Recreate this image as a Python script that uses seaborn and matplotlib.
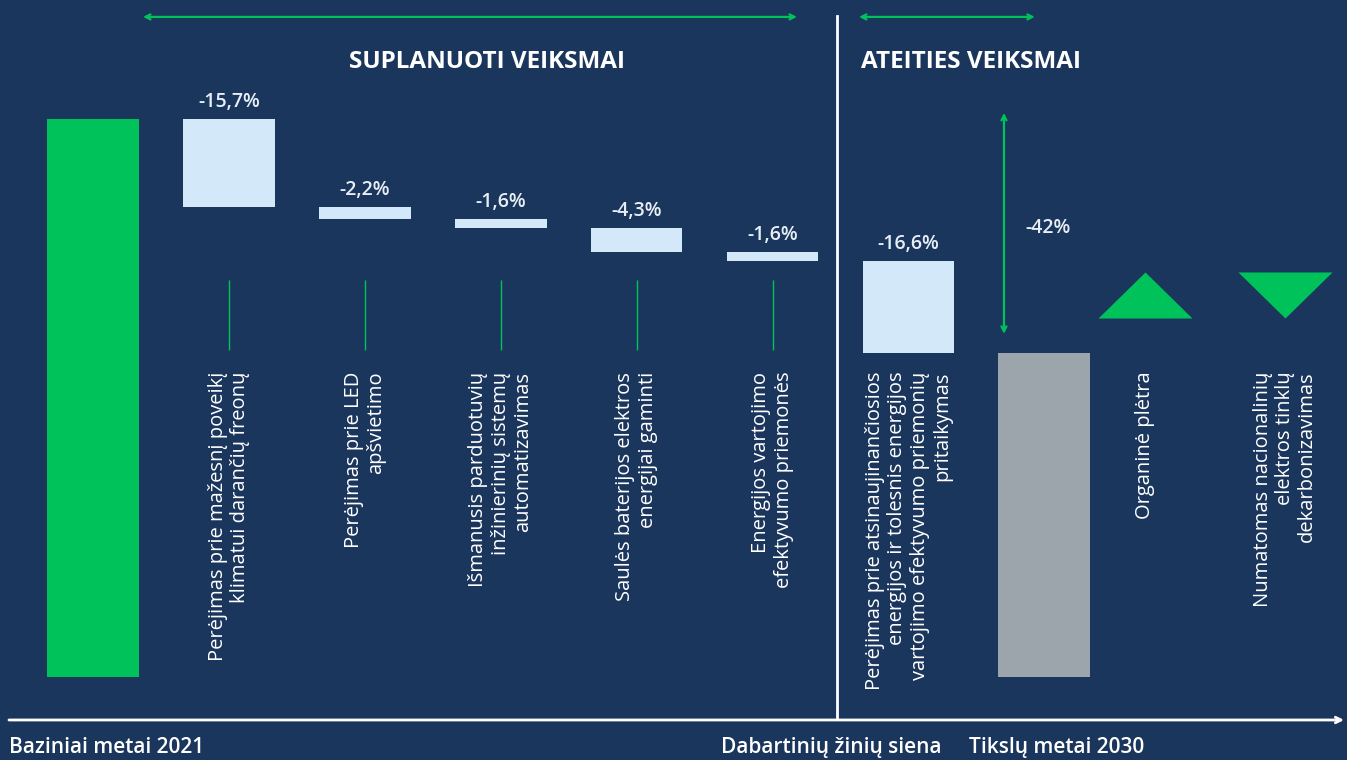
import numpy as np
import pandas as pd
import matplotlib
matplotlib.use("Agg")
import matplotlib.pyplot as plt
import seaborn as sns

# --- data ---
base_value = 100.0
step_names = ["Baziniai metai 2021", "Freonai", "LED", "Automatizavimas",
              "Saulės baterijos", "Efektyvumas", "Atsinaujinanti energija",
              "Tikslų metai 2030"]
step_changes = [-15.7, -2.2, -1.6, -4.3, -1.6, -16.6]
total_change_label = "-42%"

step_labels = [
    "Perėjimas prie mažesnį poveikį\nklimatui darančių freonų",
    "Perėjimas prie LED\napšvietimo",
    "Išmanusis parduotuvių\ninžinierinių sistemų\nautomatizavimas",
    "Saulės baterijos elektros\nenergijai gaminti",
    "Energijos vartojimo\nefektyvumo priemonės",
    "Perėjimas prie atsinaujinančiosios\nenergijos ir tolesnis energijos\nvartojimo efektyvumo priemonių\npritaikymas",
]
extra_labels = ["Organinė plėtra",
                "Numatomas nacionalinių\nelektros tinklų\ndekarbonizavimas"]
section_titles = ["SUPLANUOTI VEIKSMAI", "ATEITIES VEIKSMAI"]
bottom_labels = ["Baziniai metai 2021", "Dabartinių žinių siena", "Tikslų metai 2030"]

# --- colours ---
BG = "#1B365D"
GREEN = "#00C25A"
LIGHT = "#D3E8F8"
GREY = "#9BA5AB"
WHITE = "#FFFFFF"

# --- waterfall geometry from the data ---
tops = [base_value]
bottoms = [0.0]
cur = base_value
for ch in step_changes:
    tops.append(cur)
    bottoms.append(cur + ch)
    cur = cur + ch
tops.append(cur)
bottoms.append(0.0)
colors = [GREEN] + [LIGHT] * len(step_changes) + [GREY]

df = pd.DataFrame({"step": step_names, "top": tops, "bottom": bottoms})

plt.rcParams["font.family"] = ["Open Sans", "DejaVu Sans"]
fig = plt.figure(figsize=(13.47, 7.6), dpi=100, facecolor=BG)
ax = fig.add_axes([0, 0, 1, 1])
ax.set_facecolor(BG)

sns.barplot(data=df, x="step", y="top", hue="step", palette=colors,
            width=0.675, saturation=1, legend=False, linewidth=0, ax=ax)
# mask the lower part of the floating bars with the background colour
sns.barplot(data=df, x="step", y="bottom", color=BG, width=0.69,
            saturation=1, linewidth=0, ax=ax)

# axis limits chosen so that bar positions match the layout
ax.set_xlim(-0.684, 9.227)
ax.set_ylim(-14.87, 121.33)
ax.set_axis_off()

# value labels above the change bars
for i, ch in enumerate(step_changes, start=1):
    txt = f"{ch:.1f}".replace(".", ",") + "%"
    ax.text(i, tops[i] + 3.0, txt, ha="center", va="center",
            color="#E8EEF5", fontsize=14, fontweight="semibold")

# thin green leader lines under the first five changes
ax.vlines(range(1, 6), 58.6, 71.1, color=GREEN, lw=1, zorder=3)

# rotated step descriptions
for i, lab in enumerate(step_labels, start=1):
    ax.text(i, 54.7, lab, rotation=90, ha="center", va="top",
            multialignment="right", color=WHITE, fontsize=14.5,
            linespacing=1.15)

# qualitative effects: triangles
tri_up = [(-1, -0.49), (1, -0.49), (0, 0.49)]
tri_down = [(-1, 0.49), (1, 0.49), (0, -0.49)]
tri_x = [7.74, 8.77]
ax.scatter([tri_x[0]], [68.5], marker=tri_up, s=4580, color=GREEN, lw=0, zorder=3)
ax.scatter([tri_x[1]], [68.5], marker=tri_down, s=4580, color=GREEN, lw=0, zorder=3)
for x, lab in zip(tri_x, extra_labels):
    ax.text(x, 54.7, lab, rotation=90, ha="center", va="top",
            multialignment="right", color=WHITE, fontsize=14.5,
            linespacing=1.15)

# total reduction arrow
ax.annotate("", xy=(6.703, 61.5), xytext=(6.703, 101.1),
            arrowprops=dict(arrowstyle="<->", color=GREEN, lw=1.6,
                            shrinkA=0, shrinkB=0, mutation_scale=9))
ax.text(7.03, 80.5, total_change_label, ha="center", va="center",
        color="#E8EEF5", fontsize=14, fontweight="semibold")

# section arrows and titles
ax.annotate("", xy=(5.18, 118.3), xytext=(0.368, 118.3),
            arrowprops=dict(arrowstyle="<->", color=GREEN, lw=1.6,
                            shrinkA=0, shrinkB=0, mutation_scale=9))
ax.annotate("", xy=(6.93, 118.3), xytext=(5.636, 118.3),
            arrowprops=dict(arrowstyle="<->", color=GREEN, lw=1.6,
                            shrinkA=0, shrinkB=0, mutation_scale=9))
ax.text(2.9, 110.2, section_titles[0], ha="center", va="center",
        color=WHITE, fontsize=17.5, fontweight="bold")
ax.text(5.65, 110.2, section_titles[1], ha="left", va="center",
        color=WHITE, fontsize=17.5, fontweight="bold")

# knowledge wall separator and time axis
ax.plot([5.475, 5.475], [-7.5, 118.4], color=WHITE, lw=2, zorder=3)
ax.annotate("", xy=(9.205, -7.7), xytext=(-0.618, -7.7),
            arrowprops=dict(arrowstyle="->", color=WHITE, lw=2,
                            shrinkA=0, shrinkB=0, mutation_scale=10))

ax.text(-0.621, -13.55, bottom_labels[0], ha="left", va="baseline",
        color=WHITE, fontsize=15, fontweight="semibold")
ax.text(6.247, -13.55, bottom_labels[1], ha="right", va="baseline",
        color=WHITE, fontsize=15, fontweight="semibold")
ax.text(6.446, -13.55, bottom_labels[2], ha="left", va="baseline",
        color=WHITE, fontsize=15, fontweight="semibold")

fig.savefig("out.png", dpi=100, facecolor=BG)
